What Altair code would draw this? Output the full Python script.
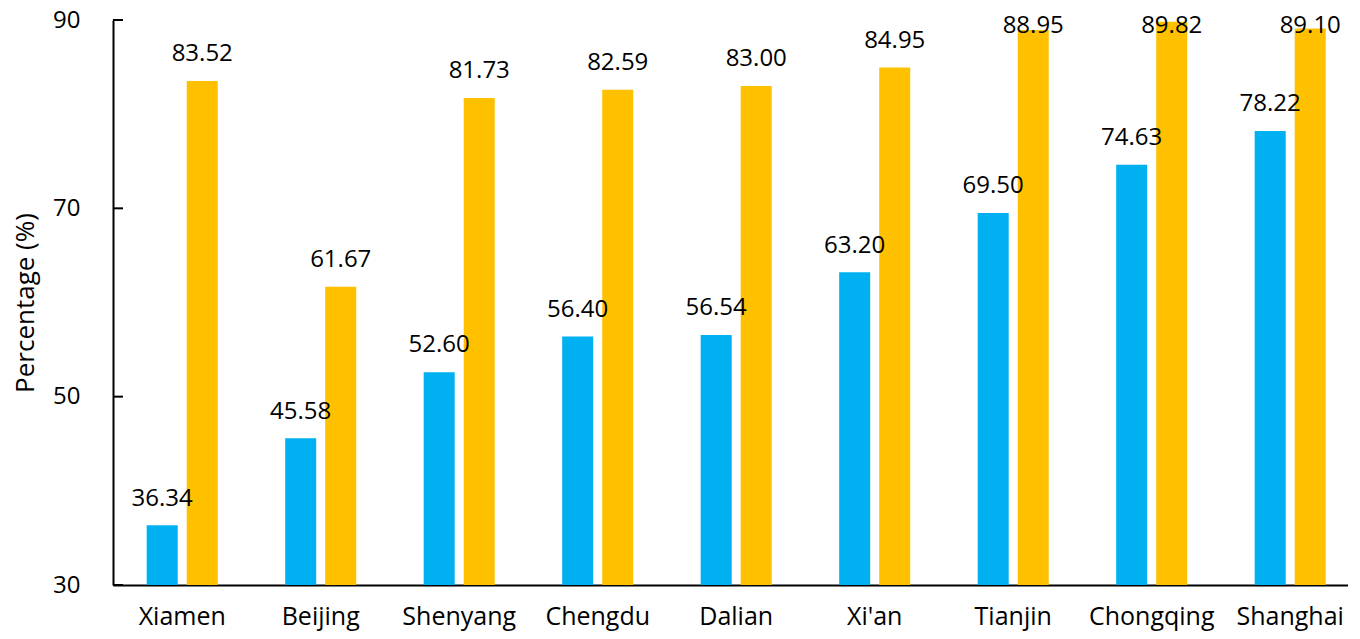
import altair as alt
import pandas as pd

cities = ["Xiamen", "Beijing", "Shenyang", "Chengdu", "Dalian", "Xi'an", "Tianjin", "Chongqing", "Shanghai"]
series_a = [36.34, 45.58, 52.60, 56.40, 56.54, 63.20, 69.50, 74.63, 78.22]
series_b = [83.52, 61.67, 81.73, 82.59, 83.00, 84.95, 88.95, 89.82, 89.10]
series_names = ["A", "B"]
y_ticks = [30, 50, 70, 90]

rows = []
for c, a, b in zip(cities, series_a, series_b):
    rows.append({"city": c, "series": "A", "value": a})
    rows.append({"city": c, "series": "B", "value": b})
df = pd.DataFrame(rows)
ticks_df = pd.DataFrame({"value": y_ticks})

FONT = "Open Sans"
YTITLE = "Percentage (%)"
yscale = alt.Scale(domain=[30, 90], zero=False, nice=False)

x = alt.X("city:N", sort=cities, title=None,
          scale=alt.Scale(paddingInner=0.487, paddingOuter=0.202, align=0.602),
          axis=alt.Axis(labelAngle=0, ticks=False, domainColor="black", domainWidth=2,
                        labelFont=FONT, labelFontSize=25, labelColor="black",
                        labelBaseline="alphabetic", labelPadding=39))
xo = alt.XOffset("series:N", sort=series_names,
                 scale=alt.Scale(paddingInner=0.225, paddingOuter=0))

base = alt.Chart(df)

bars = base.mark_bar().encode(
    x=x,
    xOffset=xo,
    y=alt.Y("value:Q", scale=yscale, title=YTITLE,
            axis=alt.Axis(values=y_ticks, grid=False, domainColor="black", domainWidth=2,
                          ticks=False, labelPadding=33,
                          labelFont=FONT, labelFontSize=24, labelColor="black",
                          titleFont=FONT, titleFontSize=26, titleFontWeight="normal",
                          titleColor="black", titlePadding=14)),
    y2=alt.datum(30),
    color=alt.Color("series:N", sort=series_names,
                    scale=alt.Scale(domain=series_names, range=["#00B0F0", "#FFC000"]),
                    legend=None),
)

labels = base.transform_calculate(
    labelY="min(datum.value + 2.1, 88.6)"
).mark_text(font=FONT, fontSize=24, color="black", baseline="alphabetic", align="center").encode(
    x=x,
    xOffset=xo,
    y=alt.Y("labelY:Q", scale=yscale, title=YTITLE),
    text=alt.Text("value:Q", format=".2f"),
)

inner_ticks = alt.Chart(ticks_df).mark_rule(color="black", strokeWidth=2).encode(
    y=alt.Y("value:Q", scale=yscale, title=YTITLE),
    x=alt.value(0),
    x2=alt.value(10),
)

chart = alt.layer(bars, labels, inner_ticks).properties(
    width=1235, height=565,
    autosize=alt.AutoSizeParams(type="none"),
    padding={"left": 105, "top": 12, "right": 0, "bottom": 46},
).configure_view(stroke=None)

chart.save("out.html", embed_options={"renderer": "svg", "actions": False})
